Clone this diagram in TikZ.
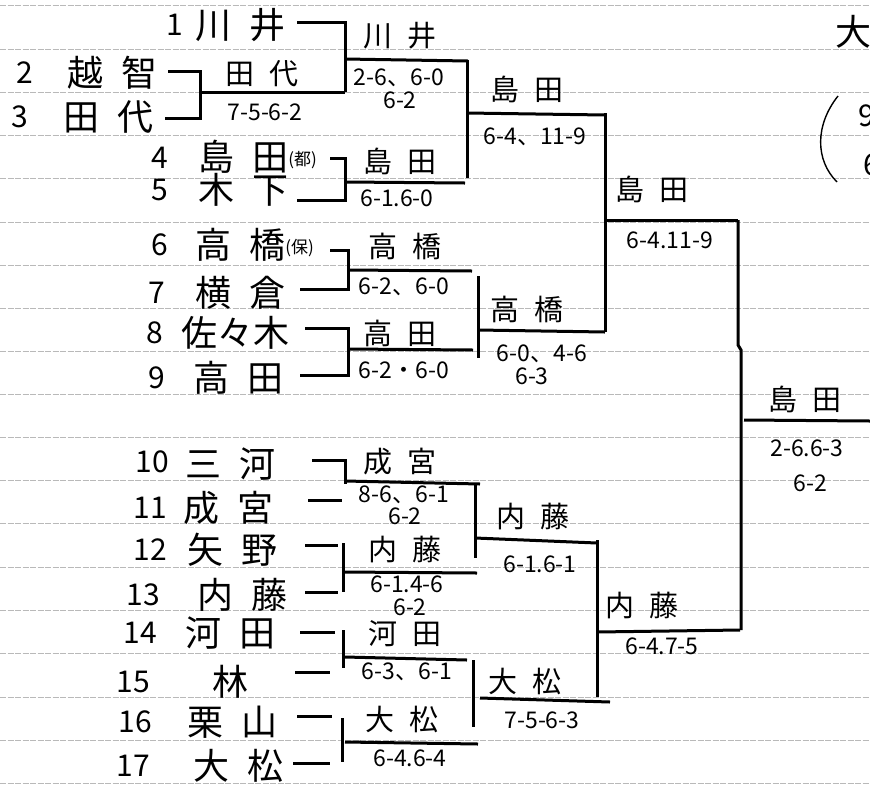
\documentclass[tikz,border=0pt]{standalone}
\usepackage{fontspec}
\newfontfamily\jfont{Noto Sans CJK JP}
\newcommand{\kgap}{\hspace{0.5em}}

\tikzset{
	rule/.style={color=gray!55, line width=0.6pt, dash pattern=on 6pt off 1.5pt},
	bracket/.style={line width=3pt},
	entrant/.style={font=\jfont\fontsize{36}{36}\selectfont, inner sep=0pt, text height=28pt, text depth=2pt},
	seed/.style={font=\jfont\fontsize{30}{30}\selectfont, inner sep=0pt},
	club/.style={font=\jfont\fontsize{17}{17}\selectfont, inner sep=0pt},
	winner/.style={font=\jfont\fontsize{29}{29}\selectfont, inner sep=0pt, text height=22.6pt, text depth=1.7pt},
	score/.style={font=\jfont\fontsize{23}{23}\selectfont, inner sep=0pt, text height=17pt, text depth=1pt},
}

\begin{document}
\begin{tikzpicture}[x=1pt,y=-1pt]
	\useasboundingbox (0,0) rectangle (870,788);
	\clip (0,0) rectangle (870,788);
	\fill[white] (0,0) rectangle (870,788);
	% ruled paper
	\draw[rule] (0,5) -- (870,5) (0,49) -- (870,49) (0,92) -- (870,92) (0,135) -- (870,135) (0,178) -- (870,178) (0,222) -- (870,222) (0,265) -- (870,265) (0,308) -- (870,308) (0,351) -- (870,351) (0,394) -- (870,394) (0,437) -- (870,437) (0,480) -- (870,480) (0,523) -- (870,523) (0,567) -- (870,567) (0,610) -- (870,610) (0,653) -- (870,653) (0,697) -- (870,697) (0,740) -- (870,740) (0,783) -- (870,783);
	% entrants
	\node[seed] (s1) at (175,25) {1};
	\node[entrant] (p1) at (240,25) {川\kgap 井};
	\node[seed] (s2) at (25,73) {2};
	\node[entrant] (p2) at (112,73) {越\kgap 智};
	\node[seed] (s3) at (20,117) {3};
	\node[entrant] (p3) at (108,117) {田\kgap 代};
	\node[seed] (s4) at (160,158) {4};
	\node[entrant] (p4) at (243,157) {島\kgap 田};
	\node[club,anchor=west] (c4) at ([yshift=-3pt]p4.east) {(都)};
	\node[seed] (s5) at (160,190) {5};
	\node[entrant] (p5) at (243,190) {木\kgap 下};
	\node[seed] (s6) at (160,245) {6};
	\node[entrant] (p6) at (240,245) {高\kgap 橋};
	\node[club,anchor=west] (c6) at ([yshift=-3pt]p6.east) {(保)};
	\node[seed] (s7) at (157,293) {7};
	\node[entrant] (p7) at (240,293) {横\kgap 倉};
	\node[seed] (s8) at (155,333) {8};
	\node[entrant] (p8) at (235,333) {佐々木};
	\node[seed] (s9) at (157,378) {9};
	\node[entrant] (p9) at (238,378) {高\kgap 田};
	\node[seed] (s10) at (152,462) {10};
	\node[entrant] (p10) at (230,464) {三\kgap 河};
	\node[seed] (s11) at (150,508) {11};
	\node[entrant] (p11) at (228,508) {成\kgap 宮};
	\node[seed] (s12) at (150,550) {12};
	\node[entrant] (p12) at (232,550) {矢\kgap 野};
	\node[seed] (s13) at (143,595) {13};
	\node[entrant] (p13) at (242,595) {内\kgap 藤};
	\node[seed] (s14) at (140,633) {14};
	\node[entrant] (p14) at (230,633) {河\kgap 田};
	\node[seed] (s15) at (133,682) {15};
	\node[entrant] (p15) at (230,682) {林};
	\node[seed] (s16) at (135,722) {16};
	\node[entrant] (p16) at (232,722) {栗\kgap 山};
	\node[seed] (s17) at (133,766) {17};
	\node[entrant] (p17) at (238,766) {大\kgap 松};
	% first round
	\draw[bracket] (168,71) -- (200,71) -- (200,118) -- (165,118);
	\draw[bracket] (200,92) -- (345,92);
	\node[winner] (w23) at (262,74) {田\kgap 代};
	\node[score] (r23) at (265,112) {7-5-6-2};
	\draw[bracket] (297,22) -- (345,22) -- (345,92);
	\draw[bracket] (345,59) -- (468,61);
	\node[winner] (w1) at (400,36) {川\kgap 井};
	\node[score] (r1a) at (399,77) {2-6、6-0};
	\node[score] (r1b) at (400,100) {6-2};
	\draw[bracket] (330,158) -- (345,158) -- (345,200) -- (297,200);
	\draw[bracket] (345,182) -- (465,183);
	\node[winner] (w45) at (400,162) {島\kgap 田};
	\node[score] (r45) at (397,198) {6-1.6-0};
	\draw[bracket] (330,250) -- (348,250) -- (348,289) -- (300,289);
	\draw[bracket] (348,270) -- (472,271);
	\node[winner] (w67) at (405,247) {高\kgap 橋};
	\node[score] (r67) at (404,286) {6-2、6-0};
	\draw[bracket] (305,328) -- (348,328) -- (348,375) -- (300,375);
	\draw[bracket] (348,349) -- (473,350);
	\node[winner] (w89) at (400,334) {高\kgap 田};
	\node[score] (r89) at (404,370) {6-2・6-0};
	\draw[bracket] (312,460) -- (345,460) -- (345,484);
	\draw[bracket] (308,500) -- (342,500);
	\draw[bracket] (345,481) -- (480,484);
	\node[winner] (w1011) at (400,462) {成\kgap 宮};
	\node[score] (r1011a) at (404,494) {8-6、6-1};
	\node[score] (r1011b) at (405,516) {6-2};
	\draw[bracket] (305,545) -- (338,545);
	\draw[bracket] (305,592) -- (338,592);
	\draw[bracket] (343,543) -- (343,592);
	\draw[bracket] (343,572) -- (477,573);
	\node[winner] (w1213) at (405,550) {内\kgap 藤};
	\node[score] (r1213a) at (407,584) {6-1.4-6};
	\node[score] (r1213b) at (410,607) {6-2};
	\draw[bracket] (300,632) -- (335,632);
	\draw[bracket] (295,672) -- (330,672);
	\draw[bracket] (343,630) -- (343,668);
	\draw[bracket] (345,657) -- (467,660);
	\node[winner] (w1415) at (405,634) {河\kgap 田};
	\node[score] (r1415) at (407,671) {6-3、6-1};
	\draw[bracket] (297,716) -- (332,716);
	\draw[bracket] (293,763) -- (330,763);
	\draw[bracket] (342,718) -- (342,762);
	\draw[bracket] (345,742) -- (478,744);
	\node[winner] (w1617) at (402,720) {大\kgap 松};
	\node[score] (r1617) at (410,758) {6-4.6-4};
	% quarter finals
	\draw[bracket] (467,60) -- (467,178);
	\draw[bracket] (467,113) -- (605,115);
	\node[winner] (q1) at (527,90) {島\kgap 田};
	\node[score] (rq1) at (535,136) {6-4、11-9};
	\draw[bracket] (478,276) -- (478,358);
	\draw[bracket] (478,330) -- (605,332);
	\node[winner] (q2) at (527,310) {高\kgap 橋};
	\node[score] (rq2a) at (542,353) {6-0、4-6};
	\node[score] (rq2b) at (532,376) {6-3};
	\draw[bracket] (475,484) -- (475,558);
	\draw[bracket] (475,538) -- (597,543);
	\node[winner] (q3) at (533,517) {内\kgap 藤};
	\node[score] (rq3) at (540,564) {6-1.6-1};
	\draw[bracket] (473,660) -- (473,727);
	\draw[bracket] (480,698) -- (610,702);
	\node[winner] (q4) at (525,682) {大\kgap 松};
	\node[score] (rq4) at (542,720) {7-5-6-3};
	% semi finals
	\draw[bracket] (605,113) -- (605,332);
	\draw[bracket] (605,220) -- (738,220);
	\node[winner] (sf1) at (652,190) {島\kgap 田};
	\node[score] (rsf1) at (670,240) {6-4.11-9};
	\draw[bracket] (597,540) -- (597,697);
	\draw[bracket] (597,632) -- (740,630);
	\node[winner] (sf2) at (642,606) {内\kgap 藤};
	\node[score] (rsf2) at (662,646) {6-4.7-5};
	% final
	\draw[bracket] (738,220) -- (738,345) -- (741,350) -- (741,630);
	\draw[bracket] (744,420) -- (870,421);
	\node[winner] (fin) at (805,400) {島\kgap 田};
	\node[score] (rfa) at (807,448) {2-6.6-3};
	\node[score] (rfb) at (810,483) {6-2};
	% top right, cut off
	\node[entrant] (ttl) at (853,32) {大};
	\draw[line width=1.4pt] (838,96) .. controls (815,125) and (815,160) .. (837,182);
	\node[seed] (t9) at (867,116) {9};
	\node[seed] (t6) at (872,165) {6};
\end{tikzpicture}
\end{document}
